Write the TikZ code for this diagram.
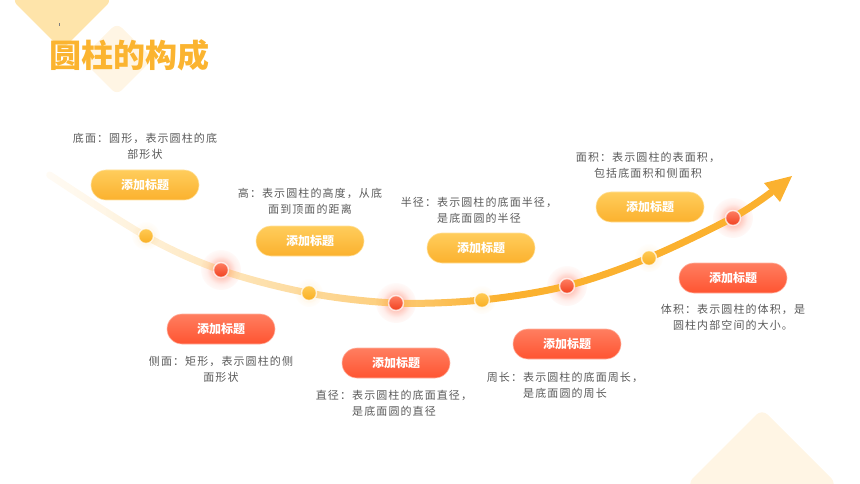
\documentclass[tikz,border=0pt]{standalone}
\usepackage{fontspec}
\setmainfont{Noto Sans CJK SC}
\newfontfamily\descfont[LetterSpace=10]{Noto Sans CJK SC}
\usetikzlibrary{fadings}
\definecolor{titleC}{HTML}{FBB430}
\definecolor{curveC}{HTML}{FBB12F}
\definecolor{diaA}{HTML}{FEE4AA}
\definecolor{diaB}{HTML}{FFF5E4}
\definecolor{ybtop}{HTML}{FFCD5C}
\definecolor{ybbot}{HTML}{FBB12E}
\definecolor{rbtop}{HTML}{FF7E60}
\definecolor{rbbot}{HTML}{FF5431}
\definecolor{descC}{HTML}{5A5A5A}
\definecolor{rdotA}{HTML}{FF7F63}
\definecolor{rdotB}{HTML}{F0401F}
\definecolor{ydotA}{HTML}{FFCB55}
\definecolor{ydotB}{HTML}{F9AE22}
\definecolor{haloR}{HTML}{FF5A3A}
\definecolor{haloY}{HTML}{FBB430}
\pgfdeclarehorizontalshading{curvefadeshade}{100bp}{rgb(0bp)=(0,0,0); rgb(22bp)=(0,0,0); rgb(29bp)=(0.12,0.12,0.12); rgb(42bp)=(0.45,0.45,0.45); rgb(49bp)=(0.65,0.65,0.65); rgb(56bp)=(1,1,1); rgb(100bp)=(1,1,1)}
\pgfdeclarefading{curvefade}{\pgfuseshading{curvefadeshade}}
\pgfdeclareradialshading{haloshade}{\pgfpoint{0bp}{0bp}}{rgb(0bp)=(0.5,0.5,0.5); rgb(9bp)=(0.35,0.35,0.35); rgb(18bp)=(0.1,0.1,0.1); rgb(28bp)=(0,0,0); rgb(50bp)=(0,0,0)}
\pgfdeclarefading{halo}{\pgfuseshading{haloshade}}
\tikzset{
  btnbase/.style={rounded corners=15pt, minimum width=108pt, minimum height=30pt, inner sep=0pt, text=white, font=\bfseries\fontsize{12}{12}\selectfont},
  ybtn/.style={btnbase, top color=ybtop, bottom color=ybbot, draw=ybtop!60!white, line width=0.6pt},
  rbtn/.style={btnbase, top color=rbtop, bottom color=rbbot, draw=rbtop!60!white, line width=0.6pt},
  desc/.style={align=center, inner sep=0pt, text=descC, font=\descfont\fontsize{11}{16}\selectfont},
  rdot/.style={circle, minimum size=15pt, inner sep=0pt, top color=rdotA, bottom color=rdotB, draw=white, draw opacity=0.75, line width=1.4pt},
  ydot/.style={circle, minimum size=15pt, inner sep=0pt, top color=ydotA, bottom color=ydotB, draw=white, draw opacity=0.75, line width=1.4pt},
}
\begin{document}
\begin{tikzpicture}[x=1pt,y=-1pt]
\useasboundingbox (0,0) rectangle (860,484);
% background diamonds
\begin{scope}
\clip (0,0) rectangle (860,484);
\fill[diaA, rounded corners=7pt] (12,0) -- (62,50) -- (112,0) -- (62,-50) -- cycle;
\fill[diaB, rounded corners=7pt] (81,59) -- (117,23) -- (153,59) -- (117,95) -- cycle;
\fill[diaB, rounded corners=8pt] (687,484) -- (762,409) -- (837,484) -- (762,559) -- cycle;
\end{scope}
\draw[gray, line width=0.6pt] (59,23.5) -- (59,26);
% coordinates of the path
\coordinate (c0) at (50,175);
\coordinate (p1) at (146,236);
\coordinate (p2) at (221,270);
\coordinate (p3) at (309,293);
\coordinate (p4) at (396,303);
\coordinate (p5) at (482,300);
\coordinate (p6) at (567,286);
\coordinate (p7) at (649,258);
\coordinate (p8) at (733,218);
\coordinate (cend) at (772,192.5);
\coordinate (tip) at (792,176);
\coordinate (w1) at (764,183);
\coordinate (w2) at (780,202);
% halos
\foreach \p in {p2,p4,p6,p8}{\fill[haloR, path fading=halo] (\p) circle (20pt);}
\foreach \p in {p1,p3,p5,p7}{\fill[haloY, path fading=halo, opacity=0.5] (\p) circle (14pt);}
% curve
\draw[curveC, line width=7pt, line cap=round, path fading=curvefade] plot[smooth, tension=0.55] coordinates {(c0) (p1) (p2) (p3) (p4) (p5) (p6) (p7) (p8) (cend)};
\fill[curveC] (tip) -- (w1) -- (w2) -- cycle;
% dots
\node[ydot] (d1) at (p1) {};
\node[rdot] (d2) at (p2) {};
\node[ydot] (d3) at (p3) {};
\node[rdot] (d4) at (p4) {};
\node[ydot] (d5) at (p5) {};
\node[rdot] (d6) at (p6) {};
\node[ydot] (d7) at (p7) {};
\node[rdot] (d8) at (p8) {};
% buttons
\node[ybtn] (y1) at (145,185) {添加标题};
\node[ybtn] (y2) at (310,241) {添加标题};
\node[ybtn] (y3) at (481,248) {添加标题};
\node[ybtn] (y4) at (650,207) {添加标题};
\node[rbtn] (r1) at (221,329) {添加标题};
\node[rbtn] (r2) at (396,363) {添加标题};
\node[rbtn] (r3) at (567,344) {添加标题};
\node[rbtn] (r4) at (733,278) {添加标题};
% descriptions
\node[desc] (t1) at (145,146) {底面：圆形，表示圆柱的底\\部形状};
\node[desc] (t2) at (310,201.5) {高：表示圆柱的高度，从底\\面到顶面的距离};
\node[desc] (t3) at (479,210) {半径：表示圆柱的底面半径，\\是底面圆的半径};
\node[desc] (t4) at (648,165.5) {面积：表示圆柱的表面积，\\包括底面积和侧面积};
\node[desc] (t5) at (221,369) {侧面：矩形，表示圆柱的侧\\面形状};
\node[desc] (t6) at (394,403) {直径：表示圆柱的底面直径，\\是底面圆的直径};
\node[desc] (t7) at (565,385) {周长：表示圆柱的底面周长，\\是底面圆的周长};
\node[desc] (t8) at (733,317.5) {体积：表示圆柱的体积，是\\圆柱内部空间的大小。};
% title
\node[anchor=west, inner sep=0pt, text=titleC, font=\bfseries\fontsize{32}{32}\selectfont] (title) at (49,55) {圆柱的构成};
\end{tikzpicture}
\end{document}
